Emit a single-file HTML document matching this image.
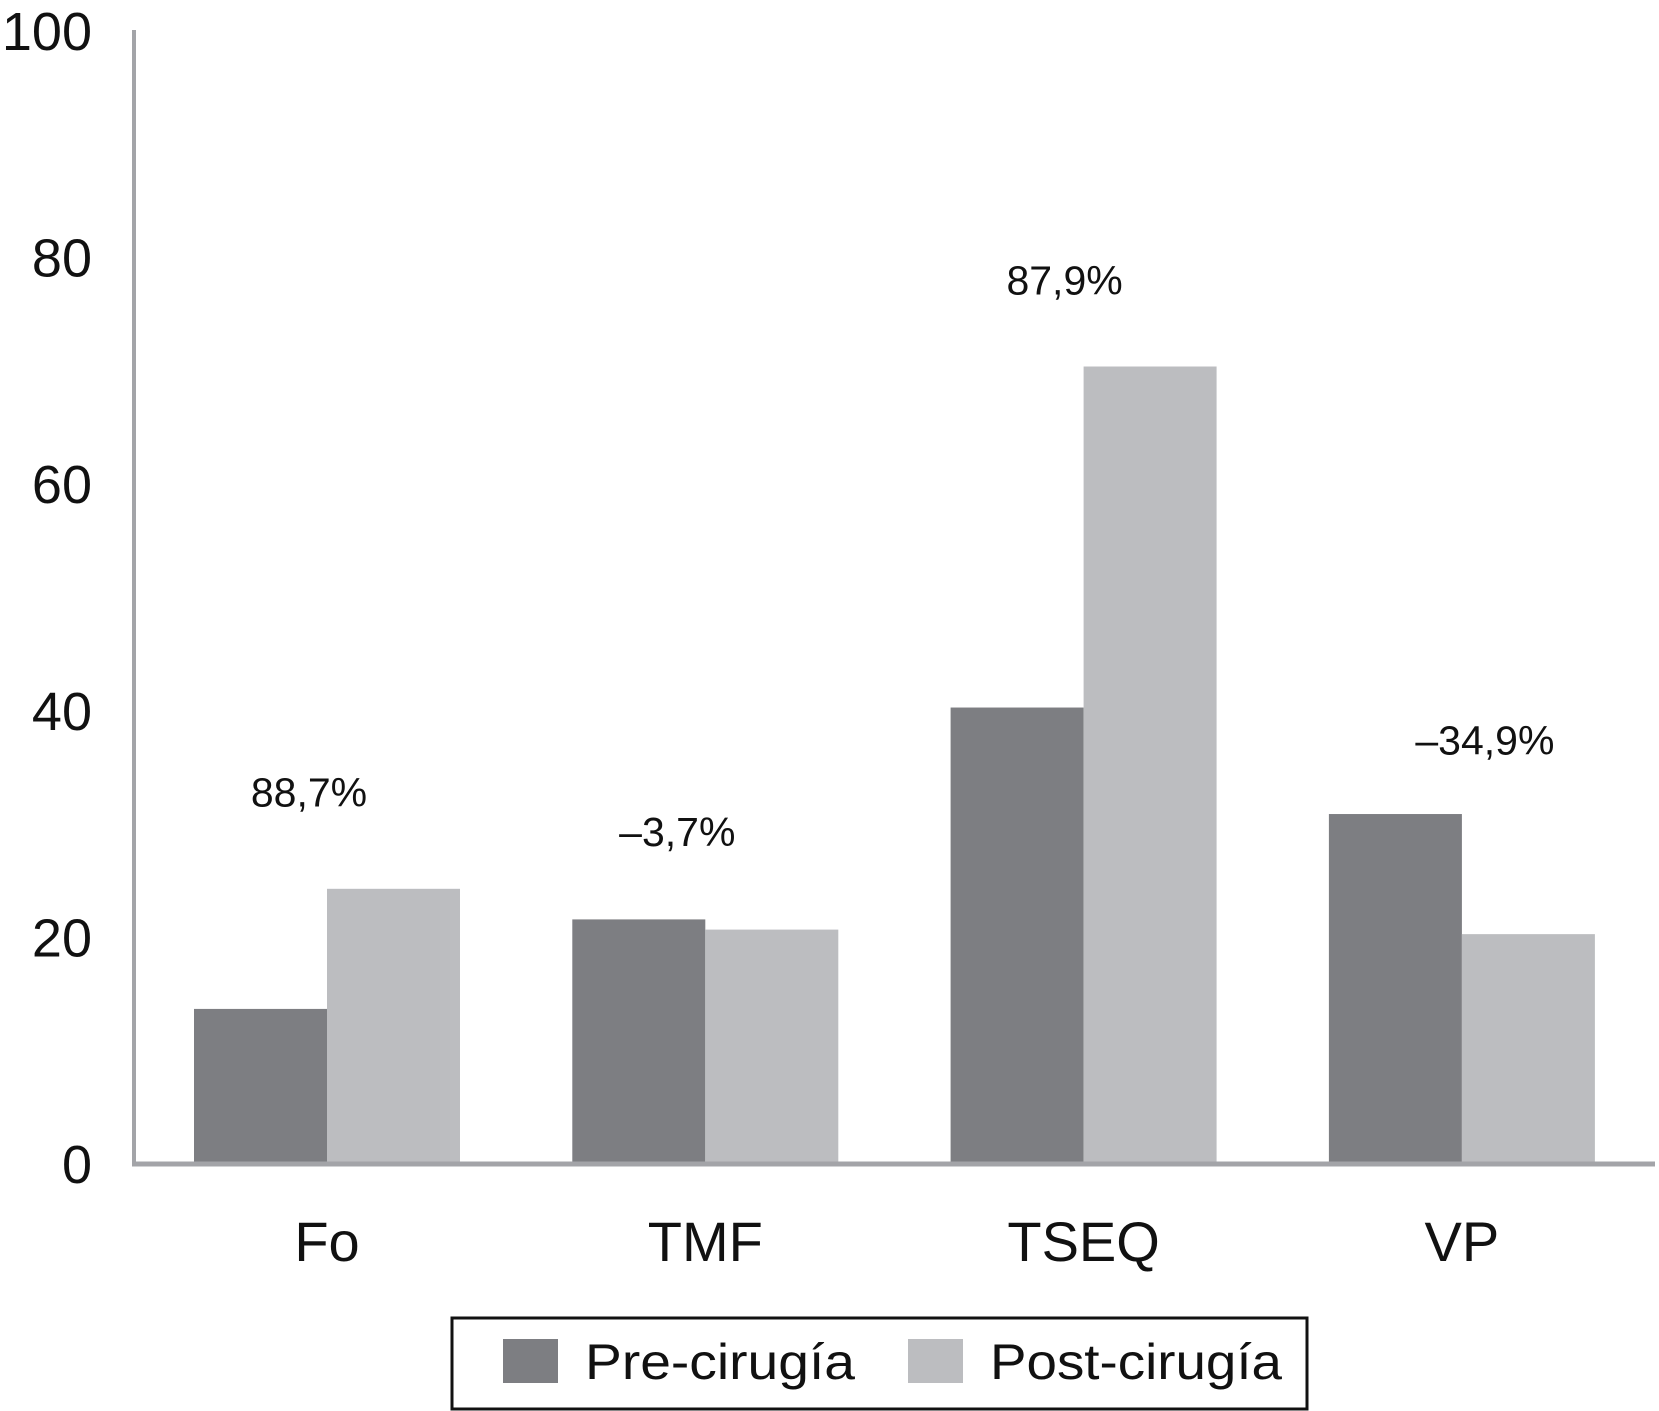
<!DOCTYPE html>
<html><head><meta charset="utf-8"><style>
html,body{margin:0;padding:0;background:#fff;}
svg{display:block;font-family:"Liberation Sans",Arial,sans-serif;}
</style></head><body>
<svg id="chart" width="1659" height="1411" viewBox="0 0 1659 1411" xmlns="http://www.w3.org/2000/svg">
<g id="bars"></g>
<line x1="134" y1="30" x2="134" y2="1165" stroke="#a3a4a8" stroke-width="4"/>
<line x1="132" y1="1164" x2="1655" y2="1164" stroke="#a3a4a8" stroke-width="5"/>
<g id="yticks"></g>
<g id="xlabels"></g>
<g id="pct"></g>
<g>
<rect x="452" y="1318" width="855" height="91" fill="#fff" stroke="#111" stroke-width="3"/>
<rect x="503" y="1339" width="55" height="44" fill="#7d7e82"/>
<text x="585" y="1379" font-size="50" fill="#111" textLength="270" lengthAdjust="spacingAndGlyphs">Pre-cirugía</text>
<rect x="908" y="1339" width="55" height="44" fill="#bcbdc0"/>
<text x="990" y="1379" font-size="50" fill="#111" textLength="292" lengthAdjust="spacingAndGlyphs">Post-cirugía</text>
</g>
</svg>
<script>
const categories = ["Fo","TMF","TSEQ","VP"];
const preValues = [13.6, 21.5, 40.2, 30.8];
const postValues = [24.2, 20.6, 70.3, 20.2];
const changeLabels = ["88,7%","–3,7%","87,9%","–34,9%"];
const changeLabelLevels = [32.8, 29.3, 78.0, 37.4];
const yTicks = [0,20,40,60,80,100];

const NS="http://www.w3.org/2000/svg";
const y0=1163, y100=30;
function yScale(v){return y0-(y0-y100)*v/100;}
function xGroup(i){return 194+i*378.3;}
const barW=133;
const labelDx=[-18,-28,-19,23];
function mk(tag,attrs,parent){const e=document.createElementNS(NS,tag);for(const k in attrs)e.setAttribute(k,attrs[k]);parent.appendChild(e);return e;}
const bars=document.getElementById('bars');
categories.forEach((c,i)=>{
  const x=xGroup(i);
  const r1=mk('rect',{x:x,y:yScale(preValues[i]),width:barW,height:y0-yScale(preValues[i]),fill:'#7d7e82'},bars);
  
  
  const r2=mk('rect',{x:x+barW,y:yScale(postValues[i]),width:barW,height:y0-yScale(postValues[i]),fill:'#bcbdc0'},bars);
  
  
  const xl=document.getElementById('xlabels');
  const t=mk('text',{x:x+barW,y:1261,'font-size':56,'text-anchor':'middle',fill:'#111'},xl);
  t.textContent=c;
  
  
  const p=mk('text',{x:x+barW+labelDx[i],y:yScale(changeLabelLevels[i])+15,'font-size':41,'text-anchor':'middle',fill:'#111'},document.getElementById('pct'));
  p.textContent=changeLabels[i];
  
  
});
const yt=document.getElementById('yticks');
yTicks.forEach(v=>{
  const t=mk('text',{x:92,y:yScale(v)+20,'font-size':54,'text-anchor':'end',fill:'#111'},yt);
  t.textContent=v;
  
  
});
</script>
</body></html>
